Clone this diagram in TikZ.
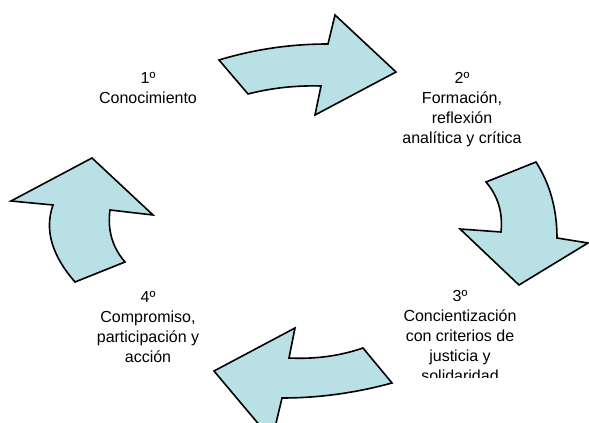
\documentclass[tikz,border=0pt]{standalone}
\usepackage{fontspec}
\setmainfont{Liberation Sans}
\usepackage{tikz}
\usepackage{xcolor}

\definecolor{flecha}{RGB}{185,224,228}
\tikzset{
  flechaciclo/.style={draw=black, line width=1.2pt, line join=miter, fill=flecha, fill opacity=1},
  paso/.style={anchor=center, inner sep=0.75pt, align=center, font=\fontsize{12}{15}\selectfont}
}

\begin{document}
\begin{tikzpicture}[x=0.75pt,y=0.75pt,yscale=-1,xscale=1]
			%set diagram left start at 0, and has height of 423
			\clip (0,0) rectangle (589,423);
			
			%Shape: Curved Right Arrow [id:flecha1] 
			\draw  [flechaciclo] (219,60) .. controls (254.3,49.3) and (290.7,44) .. (328,44) -- (335,15) -- (396,72) -- (315,115) -- (321,86) .. controls (295.7,85.3) and (271.3,88) .. (248,94) -- cycle ;
			%Shape: Curved Down Arrow [id:flecha2] 
			\draw  [flechaciclo] (536,162) .. controls (550,184) and (557,209.3) .. (557,238) -- (588,243) -- (519,285) -- (460,229) -- (501,232) .. controls (503,212.7) and (498,196) .. (486,182) -- cycle ;
			%Shape: Curved Left Arrow [id:flecha3] 
			\draw  [flechaciclo] (392,383) .. controls (355.3,393) and (318.7,398) .. (282,398) -- (272,440) -- (214,371) -- (295,328) -- (289,358) .. controls (315,359.3) and (339.7,356) .. (363,348) -- cycle ;
			%Shape: Curved Up Arrow [id:flecha4] 
			\draw  [flechaciclo] (75,282) .. controls (51.7,255.3) and (44.3,229.7) .. (53,205) -- (11,201) -- (92,158) -- (153,215) -- (110,210) .. controls (107.3,230) and (112.3,247.3) .. (125,262) -- cycle ;
			
			% Text Node
			\node [paso] (conocimiento) at (148,88) {1º\\Conocimiento};
			% Text Node
			\node [paso] (formacion) at (462,110) {2º\\Formación,\\reflexión\\analítica y crítica};
			% Text Node
			\begin{scope}
			\clip (380,280) rectangle (540,378);
			\node [paso] (concientizacion) at (460,336) {3º\\Concientización\\con criterios de\\justicia y\\solidaridad};
			\end{scope}
			% Text Node
			\node [paso] (compromiso) at (148,327) {4º\\Compromiso,\\participación y\\acción};
		\end{tikzpicture}
\end{document}
